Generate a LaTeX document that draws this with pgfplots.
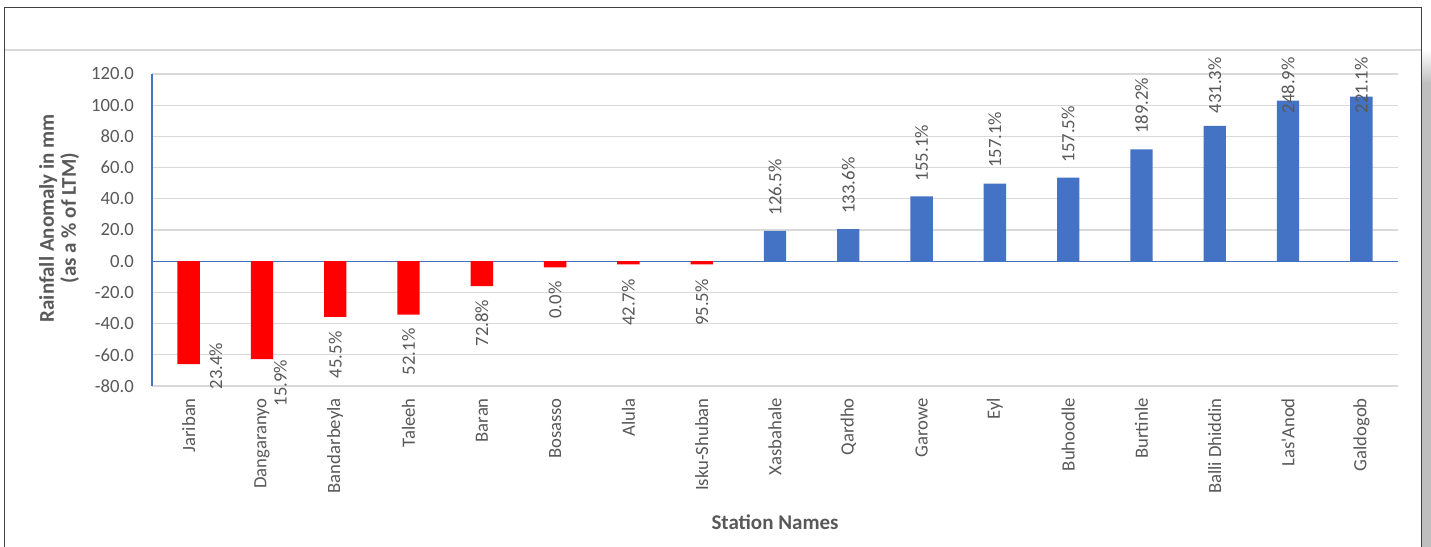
\documentclass[border=0pt]{standalone}
\usepackage{fontspec}
\setmainfont{Carlito}
\usepackage{pgfplots}
\pgfplotsset{compat=1.18}
\usepackage{pgfplotstable}

\definecolor{barblue}{HTML}{4472C4}
\definecolor{barred}{HTML}{FF0000}
\definecolor{txtgray}{HTML}{595959}
\definecolor{gridgray}{HTML}{D9D9D9}
\definecolor{framegray}{HTML}{404040}

% Rainfall anomaly (mm) per station; below-normal stations
\pgfplotstableread{
x y
0 -65.9
1 -62.7
2 -35.7
3 -34.2
4 -16.0
5 -3.9
6 -2.1
7 -2.1
}\deficit

% above-normal stations
\pgfplotstableread{
x y
8 19.4
9 20.6
10 41.5
11 49.8
12 53.6
13 71.7
14 86.8
15 103.0
16 105.5
}\surplus

% rainfall as % of LTM, placed under the red bars (top end of the text)
\pgfplotstableread{
x y lbl
0.37 -52.2 23.4
1.25 -63.1 15.9
2 -45.0 45.5
3 -43.0 52.1
4 -24.7 72.8
5 -12.9 0.0
6 -11.4 42.7
7 -11.4 95.5
}\deficitlabels

% rainfall as % of LTM, placed over the blue bars (bottom end of the text)
\pgfplotstableread{
x y lbl
8 29.2 126.5
9 30.4 133.6
10 51.2 155.1
11 59.7 157.1
12 63.3 157.5
13 81.5 189.2
14 94.6 431.3
15 94.6 248.9
16 94.6 221.1
}\surpluslabels

\begin{document}
\begin{tikzpicture}
% chart area with frame
\path[use as bounding box] (0bp,0bp) rectangle (1431bp,547bp);
\fill[white] (0bp,0bp) rectangle (1431bp,547bp);
\fill[black!25] (1422bp,0bp) rectangle (1431bp,464bp);
\shade[top color=white, bottom color=black!25] (1422bp,464bp) rectangle (1431bp,497bp);
\draw[framegray, line width=1.2bp] (4.5bp,0bp) -- (4.5bp,539.5bp) -- (1421.5bp,539.5bp) -- (1421.5bp,0bp);
\draw[gridgray, line width=1.5bp] (5bp,497bp) -- (1421bp,497bp);

\begin{axis}[
  at={(152bp,161bp)}, anchor=south west,
  scale only axis, width=1246bp, height=312bp,
  xmin=-0.5, xmax=16.5, ymin=-80, ymax=120,
  clip=false,
  axis line style={draw=none},
  major tick length=0pt,
  font=\fontsize{18.7bp}{22bp}\selectfont,
  xtick={0,...,16},
  xticklabels={Jariban,Dangaranyo,Bandarbeyla,Taleeh,Baran,Bosasso,Alula,Isku-Shuban,Xasbahale,Qardho,Garowe,Eyl,Buhoodle,Burtinle,Balli Dhiddin,Las\textquotesingle Anod,Galdogob},
  xticklabel style={rotate=90, anchor=east, inner sep=0pt, text=txtgray},
  xticklabel shift=12bp,
  ytick={-80,-60,...,120},
  yticklabels={-80.0,-60.0,-40.0,-20.0,0.0,20.0,40.0,60.0,80.0,100.0,120.0},
  yticklabel style={anchor=east, inner sep=0pt, text=txtgray},
  yticklabel shift=18bp,
  ymajorgrids,
  major grid style={gridgray, line width=1.3bp},
  extra y ticks={0}, extra y tick labels={},
  extra y tick style={grid=major, major grid style={barblue, line width=1.3bp}},
  extra x ticks={-0.5}, extra x tick labels={},
  extra x tick style={grid=major, major grid style={barblue, line width=1.3bp}},
  xlabel={Station Names},
  xlabel style={at={(axis description cs:0.5,0)}, anchor=center, yshift=-136bp,
    font=\fontsize{21bp}{22bp}\selectfont\bfseries, text=txtgray},
  ylabel={Rainfall Anomaly in mm\\(as a \% of LTM)},
  ylabel style={at={(axis description cs:0,0.538)}, anchor=center,
    yshift=93bp, align=center,
    font=\fontsize{21bp}{22bp}\selectfont\bfseries, text=txtgray},
  every node near coord/.append style={rotate=90, inner sep=0pt, text=txtgray,
    font=\fontsize{18.7bp}{22bp}\selectfont},
]
\addplot[ybar, bar width=0.305, bar shift=0pt, fill=barred, draw=none] table[x=x, y=y] {\deficit};
\addplot[ybar, bar width=0.305, bar shift=0pt, fill=barblue, draw=none] table[x=x, y=y] {\surplus};

\addplot[draw=none, mark=none, point meta=explicit symbolic,
  nodes near coords={\pgfplotspointmeta\%},
  every node near coord/.append style={anchor=east}]
  table[x=x, y=y, meta=lbl] {\deficitlabels};
\addplot[draw=none, mark=none, point meta=explicit symbolic,
  nodes near coords={\pgfplotspointmeta\%},
  every node near coord/.append style={anchor=west}]
  table[x=x, y=y, meta=lbl] {\surpluslabels};
\end{axis}
\end{tikzpicture}
\end{document}
